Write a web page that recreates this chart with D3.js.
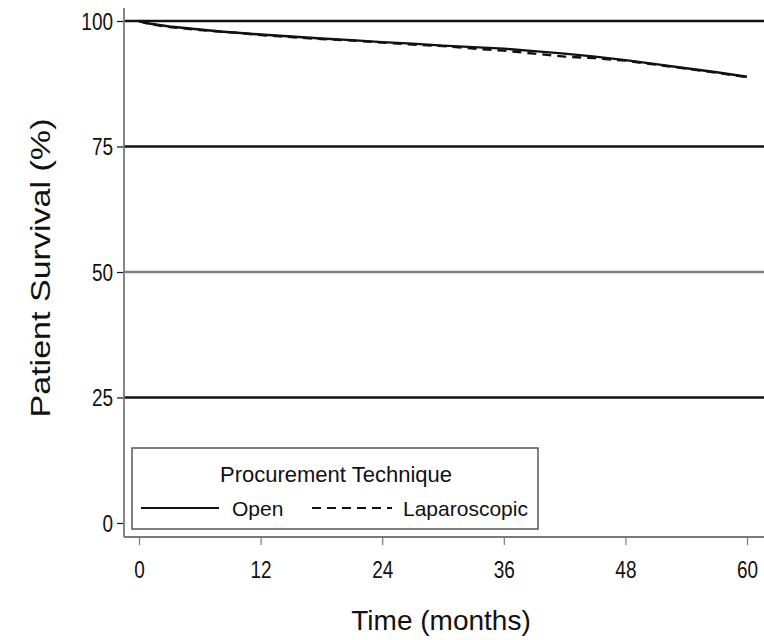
<!DOCTYPE html>
<html>
<head>
<meta charset="utf-8">
<script src="https://cdn.jsdelivr.net/npm/d3@7"></script>
<style>
  body { margin: 0; background: #fff; }
  svg text { font-family: "Liberation Sans", Arial, sans-serif; fill: #111; }
</style>
</head>
<body>
<svg width="764" height="640"></svg>
<script>
// Kaplan-Meier style patient survival
let timeMonths   = [0, 1, 2, 3, 4, 6, 8, 10, 12, 15, 18, 21, 24, 27, 30, 33, 36, 39, 42, 45, 48, 51, 54, 57, 60];
let survOpen     = [100, 99.5, 99.2, 98.9, 98.7, 98.3, 97.9, 97.6, 97.3, 96.9, 96.5, 96.2, 95.8, 95.5, 95.1, 94.8, 94.5, 94.0, 93.5, 92.9, 92.2, 91.4, 90.6, 89.8, 88.9];
let survLap      = [100, 99.4, 99.1, 98.8, 98.6, 98.2, 97.9, 97.6, 97.2, 96.8, 96.4, 96.1, 95.7, 95.3, 95.0, 94.5, 94.1, 93.5, 92.9, 92.6, 92.1, 91.3, 90.5, 89.7, 88.8];
let xTicks       = [0, 12, 24, 36, 48, 60];
let yTicks       = [0, 25, 50, 75, 100];
let gridLevels   = [25, 50, 75, 100];
let seriesNames  = ["Open", "Laparoscopic"];

let colourAxis = "#7a7a7a";
let colourInk  = "#111";

let svg = d3.select("svg");

// Scales
let x = d3.scaleLinear().domain([0, 60]).range([139, 747]);
let y = d3.scaleLinear().domain([0, 100]).range([523, 21]);

let axisLeftX = 124, axisBottomY = 537, plotRight = 764;

// Grid lines (the 50 line is lighter in the original)
svg.selectAll(".grid")
  .data(gridLevels)
  .enter().append("line")
    .attr("class", "grid")
    .attr("x1", axisLeftX).attr("x2", plotRight)
    .attr("y1", d => y(d)).attr("y2", d => y(d))
    .style("stroke", d => d == 50 ? "#808080" : "#111")
    .style("stroke-width", 2.4);

// Y axis
let gy = svg.append("g")
  .attr("transform", `translate(${axisLeftX},0)`)
  .call(d3.axisLeft(y).tickValues(yTicks).tickSize(7).tickPadding(4));
gy.select(".domain").remove();
gy.selectAll(".tick line").style("stroke", colourInk).style("stroke-width", 1.2);
gy.selectAll(".tick text")
  .style("font-size", "19px")
  .attr("dy", "0.34em")
  .attr("transform", "scale(1,1.25)");
svg.append("line")
  .attr("x1", axisLeftX).attr("x2", axisLeftX)
  .attr("y1", 8).attr("y2", axisBottomY)
  .style("stroke", colourAxis).style("stroke-width", 1.8);

// X axis
let gx = svg.append("g")
  .attr("transform", `translate(0,${axisBottomY})`)
  .call(d3.axisBottom(x).tickValues(xTicks).tickSize(8).tickPadding(11));
gx.select(".domain").remove();
gx.selectAll(".tick line").style("stroke", colourAxis).style("stroke-width", 1.2);
gx.selectAll(".tick text").style("font-size", "19px").attr("transform", "scale(1,1.25)");
svg.append("line")
  .attr("x1", axisLeftX).attr("x2", plotRight)
  .attr("y1", axisBottomY).attr("y2", axisBottomY)
  .style("stroke", colourAxis).style("stroke-width", 1.8);

// Survival curves
let line = d3.line()
  .x(d => x(d[0]))
  .y(d => y(d[1]));

let curves = [
  { name: seriesNames[0], pts: d3.zip(timeMonths, survOpen), dash: null },
  { name: seriesNames[1], pts: d3.zip(timeMonths, survLap),  dash: "9,6" }
];

svg.selectAll(".km")
  .data(curves)
  .enter().append("path")
    .attr("class", "km")
    .attr("d", d => line(d.pts))
    .style("fill", "none")
    .style("stroke", colourInk)
    .style("stroke-width", 2.4)
    .style("stroke-dasharray", d => d.dash);

// Axis titles
svg.append("text")
  .attr("transform", "translate(50,268) rotate(-90)")
  .attr("text-anchor", "middle")
  .attr("textLength", 299)
  .attr("lengthAdjust", "spacingAndGlyphs")
  .style("font-size", "27px")
  .text("Patient Survival (%)");

svg.append("text")
  .attr("x", 441).attr("y", 630)
  .attr("text-anchor", "middle")
  .style("font-size", "28px")
  .text("Time (months)");

// Legend
let lg = svg.append("g").attr("transform", "translate(132,448)");
lg.append("rect")
  .attr("width", 406).attr("height", 81)
  .style("fill", "#fff")
  .style("stroke", "#555")
  .style("stroke-width", 1.5);
lg.append("text")
  .attr("x", 204).attr("y", 34)
  .attr("text-anchor", "middle")
  .style("font-size", "22px")
  .text("Procurement Technique");

let legendItems = [
  { name: seriesNames[0], x0: 9,   x1: 87,  tx: 100, dash: null },
  { name: seriesNames[1], x0: 180, x1: 260, tx: 271, dash: "9,6" }
];
legendItems.forEach(function(it) {
  lg.append("line")
    .attr("x1", it.x0).attr("x2", it.x1)
    .attr("y1", 60).attr("y2", 60)
    .style("stroke", colourInk).style("stroke-width", 2)
    .style("stroke-dasharray", it.dash);
  lg.append("text")
    .attr("x", it.tx).attr("y", 68)
    .style("font-size", "21px")
    .text(it.name);
});
</script>
</body>
</html>
